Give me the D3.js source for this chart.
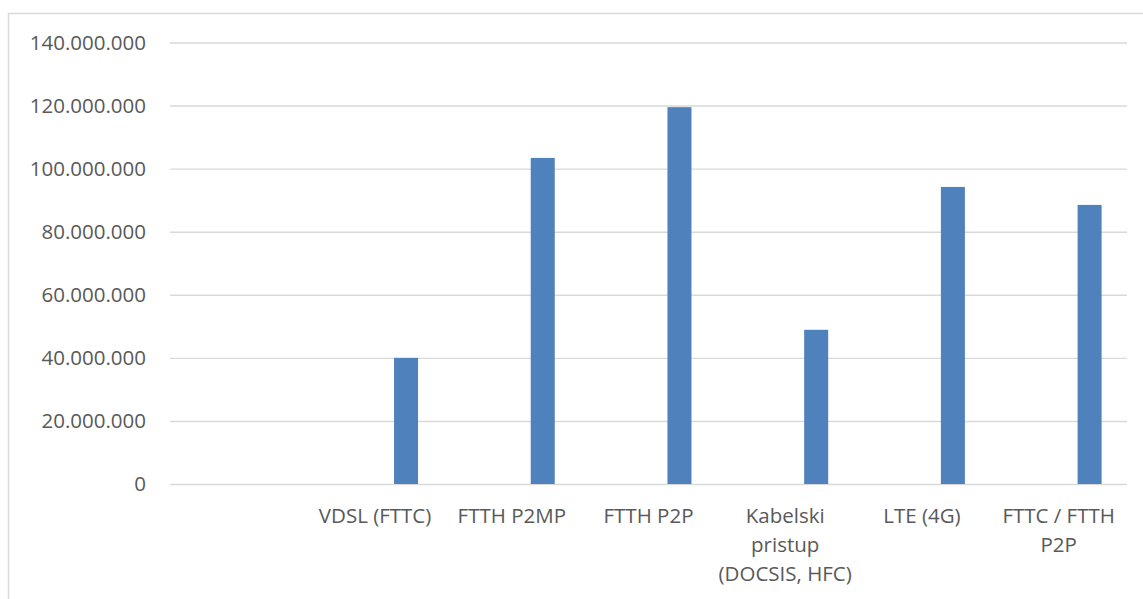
<!DOCTYPE html>
<html lang="hr">
    <head>
        <meta charset="utf-8">
        <title>Bar chart</title>
        <script type="text/javascript" src="https://d3js.org/d3.v7.min.js"></script>
        <style type="text/css">
          body { margin: 0; background: #fff; }
          text { font-family: "Open Sans", "DejaVu Sans", sans-serif; fill: #595959; }
        </style>
    </head>
    <body>
        <script type="text/javascript">
        var w = 1143;
        var h = 599;

        // data
        var categories = ["", "VDSL (FTTC)", "FTTH P2MP", "FTTH P2P", "Kabelski pristup (DOCSIS, HFC)", "LTE (4G)", "FTTC / FTTH P2P"];
        var values = [null, 40000000, 103400000, 119500000, 48900000, 94200000, 88500000];
        var slots = ["a", "b", "c"];   // three series slots, only the last one has values
        var valueSlot = "c";
        var yTicks = [0, 20000000, 40000000, 60000000, 80000000, 100000000, 120000000, 140000000];

        var margin = {top: 42.5, right: 16, bottom: 115, left: 170};
        var fontSz = 20.5;
        var barColor = "#4f81bd";
        var gridColor = "#d9d9d9";

        var hr = d3.formatLocale({decimal: ",", thousands: ".", grouping: [3], currency: ["", ""]});
        var fmt = hr.format(",");

        var svg = d3.select("body").append("svg")
                    .attr("width", w)
                    .attr("height", h);

        // chart frame
        svg.append("rect")
            .attr("x", 8.5)
            .attr("y", 13.5)
            .attr("width", w)
            .attr("height", h)
            .attr("fill", "none")
            .attr("stroke", gridColor)
            .attr("stroke-width", 1.5);

        var x = d3.scaleBand()
            .domain(categories)
            .range([margin.left, w - margin.right])
            .padding(0);

        var xSub = d3.scaleBand()
            .domain(slots)
            .range([0, x.bandwidth()])
            .paddingInner(0.2245)
            .paddingOuter(0.82);

        var y = d3.scaleLinear()
            .domain([0, 140000000])
            .range([h - margin.bottom, margin.top]);

        // y axis with gridlines
        var gy = svg.append("g")
            .attr("transform", "translate(" + margin.left + ",0)")
            .call(d3.axisLeft(y)
                .tickValues(yTicks)
                .tickFormat(fmt)
                .tickSize(-(w - margin.right - margin.left))
                .tickPadding(24));
        gy.select(".domain").remove();
        gy.selectAll(".tick line")
            .attr("stroke", gridColor)
            .attr("stroke-width", 1.4);
        gy.selectAll(".tick text")
            .attr("font-size", fontSz + "px")
            .attr("font-family", null)
            .attr("fill", "#595959");

        // bars
        svg.selectAll("rect.bar")
            .data(categories.map(function(c, i) { return {cat: c, v: values[i]}; })
                            .filter(function(d) { return d.v !== null; }))
            .enter()
            .append("rect")
            .attr("class", "bar")
            .attr("x", function(d) { return x(d.cat) + xSub(valueSlot); })
            .attr("width", xSub.bandwidth())
            .attr("y", function(d) { return y(d.v); })
            .attr("height", function(d) { return y(0) - y(d.v); })
            .attr("fill", barColor);

        // category labels, wrapped to the band width
        var lineH = 29;
        var wrapW = x.bandwidth() + 10;
        var gx = svg.append("g");
        categories.forEach(function(c) {
            if (c === "") return;
            var cx = x(c) + x.bandwidth() / 2;
            var t = gx.append("text")
                .attr("x", cx)
                .attr("y", y(0) + 38.5)
                .attr("text-anchor", "middle")
                .attr("font-size", fontSz + "px");
            var words = c.split(" ");
            var line = [];
            var ts = t.append("tspan").attr("x", cx).attr("dy", 0);
            words.forEach(function(word) {
                line.push(word);
                ts.text(line.join(" "));
                if (ts.node().getComputedTextLength() > wrapW && line.length > 1) {
                    line.pop();
                    ts.text(line.join(" "));
                    line = [word];
                    ts = t.append("tspan")
                        .attr("x", cx)
                        .attr("dy", lineH)
                        .text(word);
                }
            });
        });
        </script>
    </body>
</html>
